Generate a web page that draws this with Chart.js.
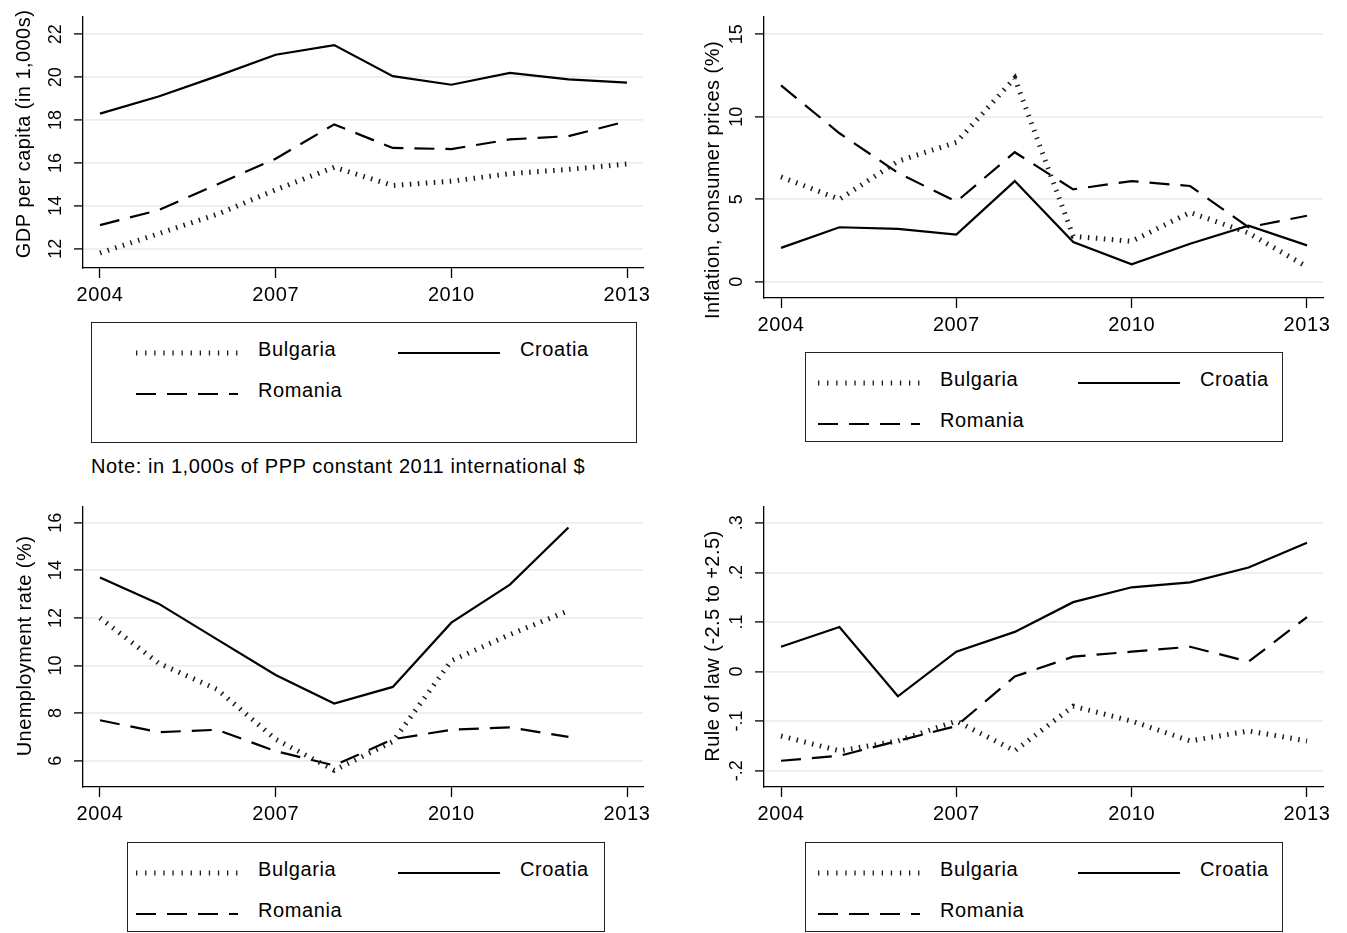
<!DOCTYPE html>
<html lang="en">
<head>
<meta charset="UTF-8">
<title>Bulgaria, Croatia and Romania 2004-2013</title>
<script src="https://cdn.jsdelivr.net/npm/chart.js@4.4.1/dist/chart.umd.min.js"></script>
<style>
  body { margin: 0; background: #fff; font-family: "Liberation Sans", Arial, sans-serif; }
  #page { position: relative; width: 1347px; height: 933px; overflow: hidden; }
  canvas { position: absolute; }
  .legend { position: absolute; border: 1px solid #222; box-sizing: border-box; }
  .sample { position: absolute; }
  .lab { position: absolute; font-size: 20px; letter-spacing: 0.6px; color: #000; transform: translateY(-50%); white-space: nowrap; }
  .note { position: absolute; left: 91px; top: 466px; font-size: 20px; letter-spacing: 0.6px; transform: translateY(-50%); white-space: nowrap; }
</style>
</head>
<body>
<div id="page">
  <canvas id="gdpChart" width="673" height="320" style="left:0;top:0"></canvas>
  <canvas id="inflChart" width="674" height="345" style="left:673px;top:0"></canvas>
  <canvas id="unempChart" width="673" height="340" style="left:0;top:490px"></canvas>
  <canvas id="lawChart" width="674" height="340" style="left:673px;top:490px"></canvas>
  <div class="note">Note: in 1,000s of PPP constant 2011 international $</div>
</div>
<script>
  // years on the x axis
  const years = [2004, 2005, 2006, 2007, 2008, 2009, 2010, 2011, 2012, 2013];
  const xTicks = [2004, 2007, 2010, 2013];
  const countries = ['Bulgaria', 'Croatia', 'Romania'];

  // GDP per capita, 1,000s PPP constant 2011 $
  const gdpBulgaria = [11.8, 12.7, 13.6, 14.75, 15.8, 14.95, 15.15, 15.5, 15.7, 15.95];
  const gdpCroatia  = [18.3, 19.1, 20.05, 21.05, 21.5, 20.05, 19.65, 20.2, 19.9, 19.75];
  const gdpRomania  = [13.1, 13.8, 15.0, 16.2, 17.8, 16.7, 16.65, 17.1, 17.25, 17.95];
  const gdpTicks = [12, 14, 16, 18, 20, 22];
  const gdpTickLabels = ['12', '14', '16', '18', '20', '22'];

  // inflation, consumer prices (%)
  const inflBulgaria = [6.35, 5.0, 7.3, 8.45, 12.35, 2.75, 2.45, 4.2, 2.95, 0.9];
  const inflCroatia  = [2.05, 3.3, 3.2, 2.85, 6.1, 2.4, 1.05, 2.3, 3.4, 2.2];
  const inflRomania  = [11.9, 9.0, 6.6, 4.85, 7.85, 5.6, 6.1, 5.8, 3.3, 4.0];
  const inflTicks = [0, 5, 10, 15];
  const inflTickLabels = ['0', '5', '10', '15'];

  // unemployment rate (%), 2004-2012
  const unempBulgaria = [12.0, 10.1, 9.0, 6.9, 5.6, 6.8, 10.2, 11.3, 12.3];
  const unempCroatia  = [13.7, 12.6, 11.1, 9.6, 8.4, 9.1, 11.8, 13.4, 15.8];
  const unempRomania  = [7.7, 7.2, 7.3, 6.4, 5.8, 6.9, 7.3, 7.4, 7.0];
  const unempTicks = [6, 8, 10, 12, 14, 16];
  const unempTickLabels = ['6', '8', '10', '12', '14', '16'];

  // rule of law (-2.5 to +2.5)
  const lawBulgaria = [-0.13, -0.16, -0.14, -0.10, -0.16, -0.07, -0.10, -0.14, -0.12, -0.14];
  const lawCroatia  = [0.05, 0.09, -0.05, 0.04, 0.08, 0.14, 0.17, 0.18, 0.21, 0.26];
  const lawRomania  = [-0.18, -0.17, -0.14, -0.11, -0.01, 0.03, 0.04, 0.05, 0.02, 0.11];
  const lawTicks = [-0.2, -0.1, 0, 0.1, 0.2, 0.3];
  const lawTickLabels = ['-.2', '-.1', '0', '.1', '.2', '.3'];

  const FONT = '"Liberation Sans", Arial, sans-serif';

  const lineStyles = {
    Bulgaria: { borderWidth: 5, borderDash: [1.5, 6.5], borderColor: '#1a1a1a' },
    Croatia:  { borderWidth: 2.2, borderDash: [], borderColor: '#000' },
    Romania:  { borderWidth: 2.2, borderDash: [20, 11], borderColor: '#000' }
  };

  function pts(vals) {
    return vals.map((v, i) => ({ x: years[i], y: v }));
  }

  // rotated y tick labels and y title, Stata style
  const stataAxes = {
    id: 'stataAxes',
    beforeDraw(chart) { chart.ctx.letterSpacing = '0.6px'; },
    afterDraw(chart, args, o) {
      const ctx = chart.ctx, ys = chart.scales.y;
      ctx.save();
      ctx.letterSpacing = '0px';
      ctx.fillStyle = '#000';
      ctx.textAlign = 'center';
      ctx.textBaseline = 'middle';
      ctx.font = '18px ' + FONT;
      o.ticks.forEach((v, i) => {
        ctx.save();
        ctx.translate(o.labelX, ys.getPixelForValue(v));
        ctx.rotate(-Math.PI / 2);
        ctx.fillText(o.labels[i], 0, 1);
        ctx.restore();
      });
      ctx.letterSpacing = '0.45px';
      ctx.font = '20px ' + FONT;
      ctx.translate(o.titleX, o.titleY);
      ctx.rotate(-Math.PI / 2);
      ctx.fillText(o.title, 0, 0);
      ctx.restore();
    }
  };

  function makePanel(id, p) {
    const ds = countries.map(c => Object.assign({
      label: c, data: pts(p.series[c]), pointRadius: 0, tension: 0, fill: false
    }, lineStyles[c]));
    ds[0].order = 0; ds[1].order = 2; ds[2].order = 1;

    return new Chart(document.getElementById(id), {
      type: 'line',
      data: { datasets: ds },
      plugins: [stataAxes],
      options: {
        responsive: false,
        animation: false,
        devicePixelRatio: 1,
        layout: { padding: { top: p.padTop, right: p.padRight, left: 0, bottom: 0 } },
        plugins: {
          legend: { display: false },
          tooltip: { enabled: false },
          stataAxes: { ticks: p.yTicks, labels: p.yLabels, labelX: p.labelX, title: p.title, titleX: p.titleX, titleY: p.titleY }
        },
        scales: {
          x: {
            type: 'linear', min: p.xMin, max: p.xMax,
            afterBuildTicks: s => { s.ticks = xTicks.map(v => ({ value: v })); },
            afterFit: s => { s.height = p.xH; },
            grid: { drawOnChartArea: false, drawTicks: true, tickLength: 10, tickColor: '#000', tickWidth: 1.3 },
            border: { color: '#000', width: 1.3 },
            ticks: { color: '#000', font: { family: FONT, size: 20 }, padding: 5, maxRotation: 0, autoSkip: false, callback: v => String(v) }
          },
          y: {
            type: 'linear', min: p.yMin, max: p.yMax,
            afterBuildTicks: s => { s.ticks = p.yTicks.map(v => ({ value: v })); },
            afterFit: s => { s.width = p.yW; },
            grid: { color: '#e6eff1', lineWidth: 1.8, drawTicks: true, tickLength: 9, tickColor: '#000', tickWidth: 1.3 },
            border: { color: '#000', width: 1.3 },
            ticks: { display: false }
          }
        }
      }
    });
  }

  const gdpChart = makePanel('gdpChart', {
    series: { Bulgaria: gdpBulgaria, Croatia: gdpCroatia, Romania: gdpRomania },
    yTicks: gdpTicks, yLabels: gdpTickLabels, title: 'GDP per capita (in 1,000s)',
    xMin: 2003.71, xMax: 2013.273, yMin: 11.10, yMax: 22.81,
    padTop: 17, padRight: 30, yW: 83, xH: 52, labelX: 55, titleX: 24, titleY: 134
  });
  const inflChart = makePanel('inflChart', {
    series: { Bulgaria: inflBulgaria, Croatia: inflCroatia, Romania: inflRomania },
    yTicks: inflTicks, yLabels: inflTickLabels, title: 'Inflation, consumer prices (%)',
    xMin: 2003.709, xMax: 2013.274, yMin: -0.99, yMax: 16.05,
    padTop: 17, padRight: 24, yW: 91, xH: 47, labelX: 63, titleX: 40, titleY: 180
  });
  const unempChart = makePanel('unempChart', {
    series: { Bulgaria: unempBulgaria, Croatia: unempCroatia, Romania: unempRomania },
    yTicks: unempTicks, yLabels: unempTickLabels, title: 'Unemployment rate (%)',
    xMin: 2003.71, xMax: 2013.273, yMin: 4.895, yMax: 16.66,
    padTop: 17, padRight: 30, yW: 83, xH: 43, labelX: 55, titleX: 25, titleY: 156
  });
  const lawChart = makePanel('lawChart', {
    series: { Bulgaria: lawBulgaria, Croatia: lawCroatia, Romania: lawRomania },
    yTicks: lawTicks, yLabels: lawTickLabels, title: 'Rule of law (-2.5 to +2.5)',
    xMin: 2003.709, xMax: 2013.274, yMin: -0.233, yMax: 0.332,
    padTop: 17, padRight: 24, yW: 91, xH: 43, labelX: 63, titleX: 40, titleY: 156
  });

  // legend boxes below each panel (two columns, Romania on second row)
  const legendBoxes = [
    { left: 91, top: 322, width: 546, height: 121, col1: 136, col2: 398 },
    { left: 805, top: 352, width: 478, height: 90, col1: 818, col2: 1078 },
    { left: 127, top: 842, width: 478, height: 90, col1: 136, col2: 398 },
    { left: 805, top: 842, width: 478, height: 90, col1: 818, col2: 1078 }
  ];

  function sampleSvg(name) {
    const st = lineStyles[name];
    if (name === 'Bulgaria') {
      return '<svg width="102" height="10"><line x1="0" y1="5" x2="102" y2="5" stroke="#1a1a1a" stroke-width="5" stroke-dasharray="1.3 7.8"/></svg>';
    }
    const dash = st.borderDash.length ? ' stroke-dasharray="' + st.borderDash.join(' ') + '"' : '';
    return '<svg width="102" height="10"><line x1="0" y1="5" x2="102" y2="5" stroke="#000" stroke-width="2.2"' + dash + '/></svg>';
  }

  const page = document.getElementById('page');
  legendBoxes.forEach(b => {
    const box = document.createElement('div');
    box.className = 'legend';
    Object.assign(box.style, { left: b.left + 'px', top: b.top + 'px', width: b.width + 'px', height: b.height + 'px' });
    page.appendChild(box);
    const rows = [[['Bulgaria', b.col1], ['Croatia', b.col2]], [['Romania', b.col1]]];
    rows.forEach((row, r) => {
      const cy = b.top + 27 + r * 41;
      row.forEach(([name, x]) => {
        const s = document.createElement('div');
        s.className = 'sample';
        s.style.left = x + 'px'; s.style.top = (cy - 5) + 'px';
        s.innerHTML = sampleSvg(name);
        page.appendChild(s);
        const t = document.createElement('div');
        t.className = 'lab';
        t.style.left = (x + 122) + 'px'; t.style.top = cy + 'px';
        t.textContent = name;
        page.appendChild(t);
      });
    });
  });
</script>
</body>
</html>
